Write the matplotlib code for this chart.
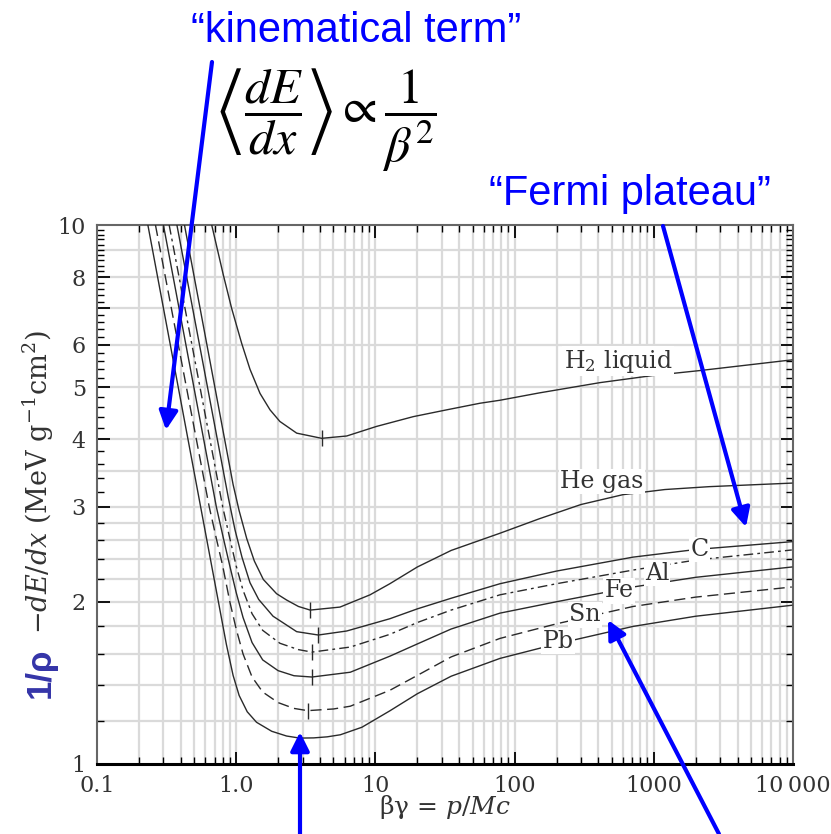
import numpy as np
import matplotlib
matplotlib.use("Agg")
import matplotlib.pyplot as plt
from matplotlib.ticker import FixedLocator, NullFormatter

# ── Data (beta*gamma, dE/dx in MeV g^-1 cm^2) ────────────────────────────────
h2_x = [0.667, 0.808, 0.928, 1.095, 1.256, 1.483, 1.75, 2.06, 2.72, 4.11, 6.22, 10.2,
        18.7, 32.5, 56.4, 78.5, 150, 411, 1000, 2148, 9800]
h2_y = [10, 8.08, 7.0, 6.03, 5.40, 4.87, 4.54, 4.32, 4.11, 4.02, 4.06, 4.23,
        4.41, 4.54, 4.67, 4.73, 4.88, 5.10, 5.26, 5.37, 5.62]

he_x = [0.425, 0.95, 1.05, 1.19, 1.35, 1.566, 1.95, 2.3, 2.8, 3.4, 5.57, 9.15, 12.7,
        20, 35, 78.5, 150, 300, 600, 1200, 2500, 9800]
he_y = [10, 3.3, 2.95, 2.62, 2.38, 2.2, 2.07, 2.015, 1.96, 1.93, 1.955, 2.06, 2.16,
        2.32, 2.49, 2.68, 2.85, 3.03, 3.16, 3.23, 3.27, 3.32]

c_x = [0.375, 0.88, 0.98, 1.1, 1.256, 1.45, 1.84, 2.72, 3.89, 6.22, 12.7, 20, 35,
       78.5, 200, 710, 2000, 9800]
c_y = [10, 3.11, 2.72, 2.42, 2.17, 2.02, 1.88, 1.76, 1.735, 1.765, 1.86, 1.94, 2.03,
       2.16, 2.28, 2.42, 2.50, 2.585]

al_x = [0.33, 0.80, 0.90, 1.0, 1.12, 1.3, 1.55, 2.06, 2.8, 3.5, 6.6, 12.7, 20, 35,
        78.5, 200, 710, 2000, 9800]
al_y = [10, 3.0, 2.62, 2.33, 2.1, 1.9, 1.77, 1.675, 1.63, 1.613, 1.648, 1.74, 1.83, 1.93,
        2.06, 2.16, 2.29, 2.39, 2.495]

fe_x = [0.30, 0.72, 0.81, 0.90, 1.0, 1.12, 1.3, 1.55, 2.0, 2.6, 3.5, 6.6, 12.7, 20, 35,
        78.5, 200, 710, 2000, 9800]
fe_y = [10, 3.0, 2.62, 2.33, 2.08, 1.87, 1.68, 1.56, 1.49, 1.458, 1.45, 1.48, 1.585, 1.67,
        1.78, 1.905, 2.0, 2.13, 2.22, 2.32]

sn_x = [0.263, 0.64, 0.72, 0.80, 0.90, 1.0, 1.12, 1.3, 1.55, 2.0, 2.6, 3.26, 5, 6.6,
        12.7, 20, 35, 78.5, 200, 710, 2000, 9800]
sn_y = [10, 3.0, 2.62, 2.33, 2.0, 1.78, 1.6, 1.45, 1.36, 1.30, 1.268, 1.256, 1.265, 1.28,
        1.37, 1.46, 1.58, 1.71, 1.82, 1.96, 2.04, 2.13]

pb_x = [0.232, 0.85, 0.95, 1.05, 1.2, 1.4, 1.8, 2.3, 2.86, 3.6, 4.5, 5.6, 8, 12.7, 20,
        35, 78.5, 200, 710, 2000, 9800]
pb_y = [10, 1.667, 1.46, 1.34, 1.25, 1.195, 1.15, 1.127, 1.117, 1.118, 1.123, 1.133, 1.17,
        1.255, 1.35, 1.455, 1.57, 1.67, 1.80, 1.88, 1.97]

# minimum-ionization markers (x, y)
min_x = [4.11, 3.4, 3.89, 3.5, 3.5, 3.26]
min_y = [4.02, 1.93, 1.735, 1.613, 1.45, 1.256]

# curve labels: text, beta*gamma, dE/dx
lab_text = ["H$_2$ liquid", "He gas", "C", "Al", "Fe", "Sn", "Pb"]
lab_x = [553, 425, 2133, 1054, 562, 320, 205]
lab_y = [5.59, 3.34, 2.50, 2.26, 2.094, 1.89, 1.69]

x_ticks = [0.1, 1.0, 10, 100, 1000, 10000]
x_ticklabels = ["0.1", "1.0", "10", "100", "1000", "10\u2009000"]
y_ticks = [1, 2, 3, 4, 5, 6, 7, 8, 10]
y_ticklabels = ["1", "2", "3", "4", "5", "6", "", "8", "10"]
y_grid = [1.2, 1.4, 1.6, 1.8, 2, 2.2, 2.4, 2.6, 2.8, 3, 3.5, 4, 5, 6, 7, 8, 9]

W, H = 831, 834
LINE = "#2a2a2a"
TXT = "#333333"
BLUE = "#0000ff"


def fpos(px, py):
    """image pixel -> figure fraction"""
    return (px / W, 1 - py / H)


fig = plt.figure(figsize=(W / 100, H / 100), dpi=100)
ax = fig.add_axes([97 / W, 1 - 764 / H, (793 - 97) / W, (764 - 225) / H])
ax.set_xscale("log")
ax.set_yscale("log")
ax.set_xlim(0.1, 10000)
ax.set_ylim(1, 10)

# ── Grid ──────────────────────────────────────────────────────────────────────
x_minor = [m * 10.0 ** e for e in range(-1, 4) for m in range(2, 10)]
for xv in x_minor + x_ticks[1:-1]:
    ax.axvline(xv, color="#dadada", lw=1.6, zorder=0)
for yv in y_grid:
    ax.axhline(yv, color="#dadada", lw=1.6, zorder=0)

# ── Curves ────────────────────────────────────────────────────────────────────
kw = dict(color=LINE, lw=1.0, zorder=3)
ax.plot(h2_x, h2_y, ls="-", **kw)
ax.plot(he_x, he_y, ls="-", **kw)
ax.plot(c_x, c_y, ls="-", **kw)
ax.plot(al_x, al_y, ls=(0, (7, 3, 2, 3)), **kw)
ax.plot(fe_x, fe_y, ls="-", **kw)
ax.plot(sn_x, sn_y, ls=(0, (8, 4)), **kw)
ax.plot(pb_x, pb_y, ls="-", **kw)
ax.plot(min_x, min_y, ls="none", marker="|", ms=12, mew=1.0, color=LINE, zorder=3)

for t, xv, yv in zip(lab_text, lab_x, lab_y):
    ax.text(xv, yv, t, ha="center", va="center", fontsize=17, color=TXT,
            family="DejaVu Serif", math_fontfamily="dejavuserif", zorder=4,
            bbox=dict(boxstyle="square,pad=0.05", fc="white", ec="none"))

# ── Ticks / spines ────────────────────────────────────────────────────────────
ax.xaxis.set_major_locator(FixedLocator(x_ticks))
ax.xaxis.set_minor_locator(FixedLocator(x_minor))
ax.set_xticklabels(x_ticklabels)
ax.xaxis.set_minor_formatter(NullFormatter())
ax.yaxis.set_major_locator(FixedLocator(y_ticks))
ax.set_yticklabels(y_ticklabels)
ax.yaxis.set_minor_locator(FixedLocator(list(np.arange(1.2, 10, 0.2))))
ax.yaxis.set_minor_formatter(NullFormatter())
ax.tick_params(which="both", direction="in", top=True, right=True, color="black")
ax.tick_params(which="major", length=9, width=1.3, labelsize=16, labelcolor=TXT, pad=8)
ax.tick_params(which="minor", length=5, width=1.0)
for lab in ax.get_xticklabels() + ax.get_yticklabels():
    lab.set_family("DejaVu Serif")
for side in ["left", "right", "top"]:
    ax.spines[side].set_color("#666666")
    ax.spines[side].set_linewidth(1.5)
ax.spines["bottom"].set_color("black")
ax.spines["bottom"].set_linewidth(2.2)

# axis labels
fig.text(*fpos(445, 807), r"βγ = $p/Mc$", ha="center", va="center", fontsize=18,
         color=TXT, family="DejaVu Serif", math_fontfamily="dejavuserif")
fig.text(*fpos(38, 634), r"$-dE/dx$ (MeV g$^{-1}$cm$^{2}$)", rotation=90,
         ha="center", va="bottom", fontsize=19.5, color=TXT,
         family="DejaVu Serif", math_fontfamily="dejavuserif")
fig.text(*fpos(40, 648), "1/ρ", rotation=90, ha="center", va="top",
         fontsize=25, fontweight="bold", color="#3434a8", family="Liberation Sans")

# ── Blue annotations ──────────────────────────────────────────────────────────
fig.text(*fpos(356, 31), "\u201ckinematical term\u201d", ha="center", va="center",
         fontsize=30, color=BLUE, family="Liberation Sans")
fig.text(*fpos(630, 194), "\u201cFermi plateau\u201d", ha="center", va="center",
         fontsize=30, color=BLUE, family="Liberation Sans")
fig.text(*fpos(326, 120),
         r"$\left\langle\dfrac{dE}{dx}\right\rangle \propto \dfrac{1}{\beta^{2}}$",
         ha="center", va="center", fontsize=36, color="black", math_fontfamily="stix")

arrows = [((212, 62), (166, 430)), ((663, 226), (746, 527)),
          ((300, 834), (300, 732)), ((719, 834), (608, 620))]
for tail, tip in arrows:
    ax.annotate("", xy=fpos(*tip), xytext=fpos(*tail), xycoords="figure fraction",
                textcoords="figure fraction", annotation_clip=False,
                arrowprops=dict(arrowstyle="-|>", lw=3, color=BLUE,
                                mutation_scale=28, shrinkA=0, shrinkB=0))

fig.savefig("out.png", dpi=100)
